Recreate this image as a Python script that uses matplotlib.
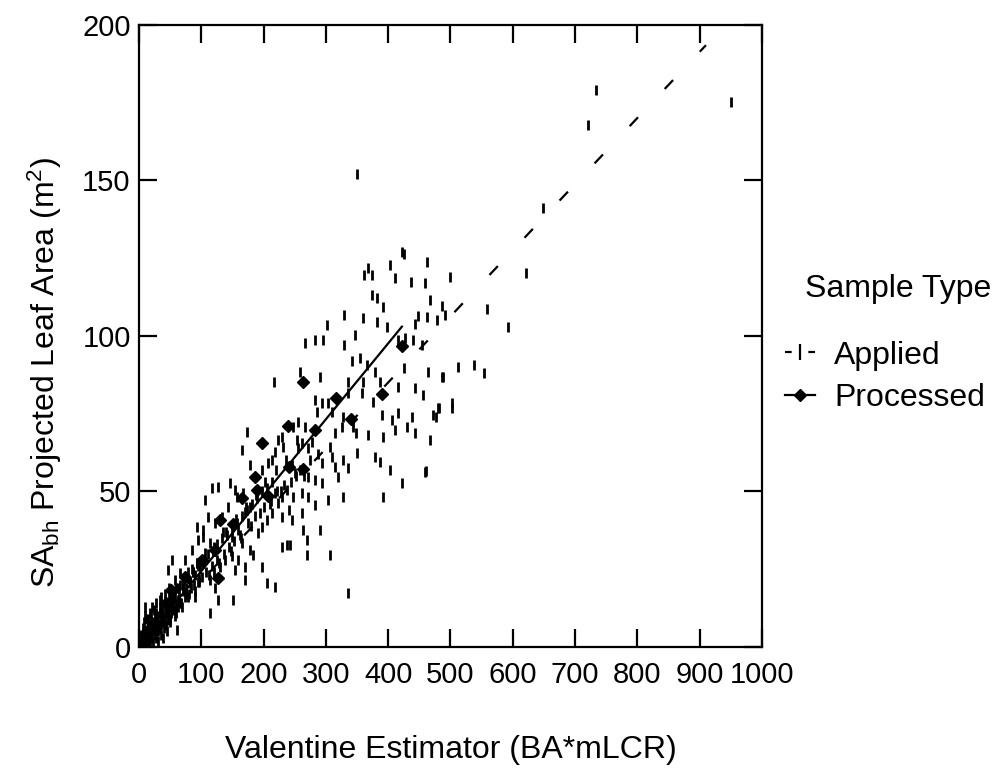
import matplotlib
matplotlib.use("Agg")
import matplotlib.pyplot as plt
from matplotlib.lines import Line2D

plt.rcParams['font.family'] = ['Liberation Sans', 'DejaVu Sans']
plt.rcParams['mathtext.default'] = 'regular'

# applied samples (vertical tick marks)
applied_x = [
    # dense cluster near origin
    2, 3, 4, 5, 6, 7, 8, 9, 10, 11, 12, 13, 14, 15, 16, 17, 18, 19, 20, 21,
    22, 23, 24, 25, 26, 27, 28, 29, 30, 31, 32, 33, 34, 35, 36, 37, 38, 39, 40, 41,
    42, 43, 44, 45, 46, 47, 48, 49, 50, 51, 52, 53, 54, 55, 56, 57, 58, 59, 60, 62,
    64, 66, 68, 70, 72, 74, 76, 78, 80, 82, 85, 88, 90, 93, 96, 98, 8, 12, 18, 24,
    28, 35, 42, 15, 22, 30, 38, 45, 6, 10, 4, 20, 33, 27, 50, 58, 65, 14, 36, 48,
    # main band
    9.7, 20.4, 33.7, 36.4, 47.1, 25.7, 15, 60.5, 68.5, 52.5, 57.8, 65.8, 47.1, 81.9, 89.9, 100.6, 114, 122, 127.4, 151.4,
    114, 73.9, 84.6, 95.3, 103.3, 92.6, 106, 130, 138.1, 148.8, 159.5, 154.1, 170.2, 170.2, 196.9, 183.5, 178.2, 164.8, 148.8, 135.4,
    114, 103.3, 92.6, 111.3, 122, 132.7, 143.4, 159.5, 167.5, 154.1, 106, 116.7, 127.4, 146.1, 156.8, 170.2, 178.2, 191.6, 196.9, 205,
    213, 229, 240.8, 245, 261.1, 218.3, 223.6, 229, 237, 247.7, 261.1, 271.8, 282.5, 303.9, 328, 392.2, 421.6, 320, 293.2, 282.5,
    271.8, 258.4, 250.4, 245, 207.6, 196.9, 186.2, 178.2, 459, 402.9, 386.8, 378.8, 349.4, 336, 328, 314.6, 293.2, 309.2, 306.6, 271.8,
    261.1, 253.1, 231.7, 213, 218.3, 255.8, 247.7, 266.5, 229, 223.6, 164.8, 172.8, 325.3, 314.6, 410.9, 392.2, 368, 347.8, 344, 501.9,
    480.4, 472.4, 467, 443, 429.6, 437.7, 416.3, 405.6, 389.5, 328, 309.2, 285.2, 376.1, 357.4, 336, 302.8, 293.2, 282.5, 456.4, 443,
    416.3, 386.8, 360, 336, 290.5, 258.4, 217.2, 485.8, 464.4, 425.9, 378.8, 365.4, 354.7, 341.4, 453.7, 440.3, 427, 416.3, 346.7, 329.6,
    295.9, 282.5, 266.5, 301.2, 491, 477.8, 461.7, 443, 447.3, 397.5, 381.5, 360, 329.6, 485.8, 467, 392.2, 381.5, 373.5, 499, 459,
    436.6, 410.9, 373.5, 361.7, 368, 402.9, 461.7, 425.9, 421.6, 229, 237, 242.4, 263.8, 269.1, 269.1, 290.5, 306.6, 336, 204.9, 218.3,
    # extra band density
    62, 70, 78, 86, 94, 102, 110, 118, 126, 134, 142, 150, 158, 166, 174, 182, 190, 198, 206, 214,
    66, 75, 84, 97, 108, 117, 125, 137, 145, 153, 162, 175, 186, 200, 212, 222, 232, 252, 274, 288,
    55, 63, 71, 79, 87, 95, 104, 112, 121, 129, 139, 147, 156, 163, 171, 179, 188, 195, 203, 211,
    220, 228, 236, 244, 255, 265, 278, 60, 90, 120,
    # sparse outliers
    558, 593, 620.7, 512.5, 537.7, 554.3, 503, 481.9, 476.6, 487.4, 460.7, 733, 721, 951, 649, 350,
]
applied_y = [
    1, 2, 0.5, 3, 1.5, 2, 4, 1, 3, 5, 2, 4, 6, 3, 5, 2, 7, 4, 6, 3,
    8, 5, 7, 4, 9, 6, 3, 8, 10, 5, 7, 11, 6, 9, 4, 12, 8, 10, 6, 13,
    9, 11, 7, 14, 10, 12, 16, 9, 13, 15, 11, 17, 12, 14, 18, 10, 16, 13, 19, 15,
    17, 20, 14, 18, 22, 16, 19, 24, 17, 21, 25, 20, 23, 27, 22, 25, 8, 9, 11, 12,
    14, 16, 17, 0.5, 1.5, 2, 3, 5, 6, 10, 4, 10, 13, 11, 8, 12, 15, 9, 7, 19,
    13, 13, 15.1, 10.8, 8.7, 5.5, 8.7, 5.5, 13, 28, 21.5, 23.7, 24.8, 20.5, 16.2, 22.6, 21.5, 18.9, 15.1, 15.1,
    10.8, 28, 31.2, 34.4, 37.6, 26.9, 30.1, 25.8, 28, 29.1, 28, 24.8, 21.5, 25.8, 25.8, 29.6, 31.2, 33.3, 35.5, 37.1,
    33.3, 35.5, 38.7, 41.9, 39.8, 41.9, 45.1, 37.6, 49.4, 50.5, 47.3, 51, 51.6, 52.6, 48.3, 43.5, 45.1, 36.5, 38.7, 40.9,
    43, 41.9, 44.1, 40.9, 43, 49.4, 46.2, 48.3, 50.5, 48.3, 49.4, 48.3, 45.7, 47.3, 48.3, 48.3, 52.6, 54.8, 52.6, 53.7,
    54.8, 56.9, 55.8, 58.5, 59.1, 56.9, 54.8, 58.5, 56.4, 56.9, 59.6, 61.2, 62.3, 57.4, 60.1, 58, 59.1, 61.2, 64.4, 63.9,
    65.5, 66.6, 64.4, 60.1, 62.8, 72.5, 70.8, 70.8, 67.6, 66.6, 63.3, 69.2, 70.8, 68.7, 69.8, 67.6, 68.2, 68.7, 70.8, 78.4,
    76.7, 74.6, 66.6, 68.7, 70.8, 74.1, 75.1, 73, 74.6, 74.1, 75.7, 75.7, 78.9, 81.6, 81.6, 78.4, 78.4, 79.4, 81.1, 83.2,
    83.7, 85.3, 85.3, 85.3, 86.9, 88.5, 85.3, 86.9, 88.5, 89.6, 88.5, 90.7, 92.8, 91.8, 97.1, 98.7, 99.3, 98.7, 100.3, 97.1,
    98.7, 98.7, 97.7, 103.5, 106.8, 105.2, 106.2, 104, 106.4, 103, 104.6, 105.7, 106.8, 109.7, 111.6, 109.4, 112.1, 113.2, 119, 117,
    117.5, 118.6, 119.6, 119.6, 121.8, 122.8, 123.9, 126.4, 127.1, 32.3, 32.8, 32.8, 37.6, 34.4, 29.6, 37.6, 29.6, 17.2, 20.5, 19.4,
    19, 20, 22, 24, 26, 27, 30, 31, 33, 35, 36, 38, 40, 42, 44, 46, 48, 50, 51, 53,
    14, 17, 19, 21, 24, 26, 28, 30, 32, 34, 36, 40, 42, 45, 47, 50, 52, 55, 60, 62,
    16, 13, 20, 16, 24, 21, 28, 23, 32, 27, 37, 31, 41, 35, 45, 39, 49, 43, 53, 46,
    57, 50, 60, 53, 64, 55, 66, 11, 18, 24,
    108.6, 103, 120.1, 90.1, 90.7, 88.2, 77, 76.9, 74, 86.9, 56.7, 179.1, 167.8, 175.3, 141, 152,
]

# processed samples (diamonds)
processed_x = [0, 4, 15, 26, 44, 52, 74, 101, 122, 127, 130, 151, 165, 187, 190, 197, 207, 239, 241, 263, 263, 283, 316, 340, 390, 422]
processed_y = [0, 2.8, 5.5, 7.6, 14, 18.3, 22.6, 28, 31.2, 22.1, 40.8, 39.5, 47.8, 54.8, 50.5, 65.5, 48.6, 71.1, 58, 85.3, 57.1, 69.8, 80, 73.2, 81.4, 96.8]

# fitted lines
applied_fit_x = [0, 910]
applied_fit_y = [0, 193.5]
processed_fit_x = [0, 422]
processed_fit_y = [0, 103]

fig = plt.figure(figsize=(10.05, 7.83), dpi=100)
ax = fig.add_axes([0.1383, 0.1737, 0.6199, 0.7944])

ax.plot(applied_x, applied_y, linestyle='none', marker='|', color='black',
        markersize=7, markeredgewidth=2)
ax.plot(processed_x, processed_y, linestyle='none', marker='D', color='black',
        markersize=6.5)
fit_a, = ax.plot(applied_fit_x, applied_fit_y, color='black', linewidth=1.6)
fit_a.set_dashes([5.5, 17.5])
ax.plot(processed_fit_x, processed_fit_y, color='black', linewidth=1.6)

ax.set_xlim(0, 1000)
ax.set_ylim(0, 200)
ax.set_xticks(range(0, 1001, 100))
ax.set_yticks(range(0, 201, 50))
ax.tick_params(direction='in', length=13, width=1.6, top=True, right=True,
               labelsize=21)
ax.tick_params(axis='x', pad=10)
ax.tick_params(axis='y', pad=6)
for s in ax.spines.values():
    s.set_linewidth(1.6)

ax.set_xlabel('Valentine Estimator (BA*mLCR)', fontsize=23, va='center')
ax.xaxis.set_label_coords(0.5, -0.166)
ax.set_ylabel(r'SA$_{bh}$ Projected Leaf Area (m$^{2}$)', fontsize=23, va='center')
ax.yaxis.set_label_coords(-0.151, 0.442)

fig.text(0.8935, 0.631, 'Sample Type', fontsize=23, ha='center', va='center')
handles = [
    Line2D([], [], color='black', linestyle=(0, (3.0, 7.5)), linewidth=1.6,
           marker='|', markersize=11, markeredgewidth=1.6),
    Line2D([], [], color='black', linestyle='-', linewidth=1.6,
           marker='D', markersize=6),
]
fig.legend(handles, ['Applied', 'Processed'], loc='upper left',
           bbox_to_anchor=(0.781, 0.565), frameon=False, fontsize=23,
           handlelength=0.95, handletextpad=0.6, labelspacing=0.38,
           borderpad=0, borderaxespad=0)

fig.savefig('out.png', dpi=100)
